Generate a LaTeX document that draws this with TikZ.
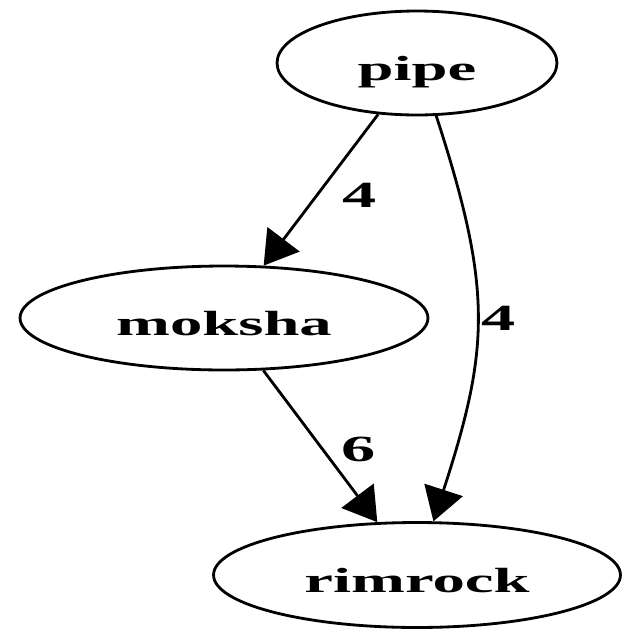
\documentclass[tikz,border=0pt]{standalone}
\usepackage{fontspec}
\setmainfont{Liberation Serif}
\usepackage{graphicx}
\usetikzlibrary{arrows.meta, shapes.geometric}
\newcommand{\stretched}[1]{\scalebox{1.85}[1]{#1}}

\begin{document}
\begin{tikzpicture}[
        x=0.02cm, y=-0.02cm,
        vertex/.style={ellipse, draw=black, line width=1.6pt, inner sep=0pt, minimum height=2.08cm, font=\fontsize{19.9pt}{24pt}\selectfont\bfseries, text height=0.68cm, text depth=0pt},
        weight/.style={font=\fontsize{21pt}{25pt}\selectfont\bfseries, inner sep=0pt, anchor=west, text depth=0pt},
        arrow/.style={-{Triangle[length=0.66cm, width=0.8cm]}, line width=1.6pt, draw=black}
    ]
        \useasboundingbox (0,0) rectangle (640,640);

        % --- NODES ---
        \node[vertex, minimum width=5.6cm] (pipe) at (417,63) {\stretched{pipe}};
        \node[vertex, minimum width=8.16cm] (moksha) at (224,318) {\stretched{moksha}};
        \node[vertex, minimum width=8.14cm, minimum height=2.1cm] (rimrock) at (417,575) {\stretched{rimrock}};

        % --- EDGES ---
        \draw[arrow] (pipe) -- (moksha) node[weight, midway, xshift=0.4cm, yshift=-0.1cm] {\stretched{4}};
        \draw[arrow] (pipe.-70) to[out=-72, in=72, looseness=1.15] node[weight, midway, xshift=0.06cm] {\stretched{4}} (rimrock.73);
        \draw[arrow] (moksha) -- (rimrock) node[weight, midway, xshift=0.39cm, yshift=-0.07cm] {\stretched{6}};

    \end{tikzpicture}
\end{document}
